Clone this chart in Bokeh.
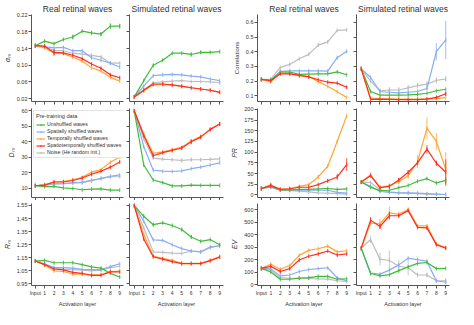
from math import pi
from bokeh.plotting import figure
from bokeh.layouts import gridplot
from bokeh.models import Range1d, FixedTicker, NumeralTickFormatter, Legend, LegendItem
from bokeh.embed import file_html
from bokeh.resources import INLINE

FONT = "Liberation Sans"

# ---------------- data ----------------
layer_x = [0, 1, 2, 3, 4, 5, 6, 7, 8, 9]
layer_labels = ["Input", "1", "2", "3", "4", "5", "6", "7", "8", "9"]

legend_order = ["unsh", "spat", "temp", "spatemp", "noise"]
draw_order = ["noise", "spat", "unsh", "temp", "spatemp"]
series_labels = {
    "unsh": "Unshuffled waves",
    "spat": "Spatially shuffled waves",
    "temp": "Temporally shuffled waves",
    "spatemp": "Spatiotemporally shuffled waves",
    "noise": "Noise (He random init.)",
}
series_colors = {
    "unsh": "#3fbb3a",
    "spat": "#86adf4",
    "temp": "#ffa535",
    "spatemp": "#ff2d20",
    "noise": "#bdbdbd",
}

alpha_real = {
    "unsh": [0.147, 0.158, 0.152, 0.162, 0.168, 0.182, 0.178, 0.175, 0.194, 0.194],
    "spat": [0.147, 0.145, 0.142, 0.143, 0.135, 0.135, 0.118, 0.112, 0.105, 0.096],
    "temp": [0.147, 0.142, 0.129, 0.128, 0.120, 0.110, 0.094, 0.086, 0.071, 0.062],
    "spatemp": [0.147, 0.146, 0.131, 0.130, 0.124, 0.116, 0.103, 0.093, 0.077, 0.070],
    "noise": [0.147, 0.144, 0.136, 0.135, 0.129, 0.127, 0.124, 0.120, 0.105, 0.105],
}
alpha_real_err = {
    "unsh": [0.0, 0.002, 0.002, 0.002, 0.006, 0.002, 0.005, 0.005, 0.007, 0.006],
    "spatemp": [0.0, 0.003, 0.008, 0.002, 0.002, 0.002, 0.002, 0.002, 0.002, 0.002],
    "noise": [0.0, 0.002, 0.003, 0.002, 0.002, 0.003, 0.004, 0.003, 0.003, 0.003],
}
alpha_sim = {
    "unsh": [0.024, 0.063, 0.100, 0.112, 0.129, 0.129, 0.126, 0.131, 0.131, 0.133],
    "spat": [0.024, 0.050, 0.075, 0.077, 0.078, 0.077, 0.074, 0.072, 0.067, 0.063],
    "temp": [0.024, 0.039, 0.053, 0.054, 0.052, 0.049, 0.046, 0.043, 0.040, 0.035],
    "spatemp": [0.024, 0.040, 0.055, 0.055, 0.053, 0.050, 0.046, 0.043, 0.040, 0.035],
    "noise": [0.024, 0.041, 0.058, 0.060, 0.062, 0.063, 0.061, 0.061, 0.060, 0.058],
}
alpha_sim_err = {
    "unsh": [0.0, 0.002, 0.002, 0.002, 0.002, 0.002, 0.005, 0.004, 0.002, 0.002],
    "noise": [0.0, 0.002, 0.002, 0.002, 0.002, 0.002, 0.002, 0.002, 0.002, 0.003],
}

dim_real = {
    "unsh": [11.6, 11.0, 11.2, 10.2, 9.8, 9.0, 9.4, 9.6, 8.8, 8.8],
    "spat": [11.6, 12.3, 12.8, 13.0, 13.4, 13.6, 14.8, 16.4, 17.6, 18.6],
    "temp": [11.6, 12.2, 14.0, 14.4, 15.4, 17.0, 20.4, 22.0, 26.8, 30.2],
    "spatemp": [11.6, 12.0, 14.0, 14.0, 15.0, 16.6, 19.0, 21.0, 23.6, 27.0],
    "noise": [11.6, 12.0, 12.8, 13.0, 13.5, 14.0, 15.2, 16.2, 17.4, 17.4],
}
dim_real_err = {
    "spatemp": [0.0, 0.4, 0.6, 0.4, 0.4, 0.4, 0.4, 0.5, 0.6, 0.6],
    "noise": [0.0, 0.3, 0.4, 0.4, 0.4, 0.5, 0.8, 0.6, 0.6, 0.6],
}
dim_sim = {
    "unsh": [60.0, 25.0, 15.3, 13.6, 11.5, 11.5, 12.0, 11.8, 11.8, 11.8],
    "spat": [60.0, 37.0, 21.6, 21.0, 20.8, 21.2, 22.6, 23.6, 25.0, 26.4],
    "temp": [60.0, 45.0, 32.5, 33.5, 35.0, 36.5, 40.5, 43.5, 48.0, 51.5],
    "spatemp": [60.0, 44.0, 31.0, 33.0, 34.4, 36.0, 40.0, 43.0, 48.0, 51.5],
    "noise": [60.0, 42.0, 29.4, 28.8, 28.4, 28.0, 28.4, 28.4, 28.6, 29.0],
}
dim_sim_err = {
    "spatemp": [0.0, 0.5, 0.8, 0.6, 0.8, 0.8, 1.5, 1.0, 0.8, 1.2],
    "noise": [0.0, 0.5, 0.8, 0.8, 1.0, 1.2, 1.2, 1.0, 1.0, 1.2],
}

rad_real = {
    "unsh": [1.125, 1.130, 1.112, 1.112, 1.112, 1.097, 1.080, 1.071, 1.031, 1.003],
    "spat": [1.125, 1.104, 1.075, 1.075, 1.071, 1.062, 1.060, 1.060, 1.082, 1.104],
    "temp": [1.125, 1.095, 1.050, 1.045, 1.025, 1.027, 1.020, 1.022, 1.045, 1.049],
    "spatemp": [1.125, 1.098, 1.064, 1.058, 1.038, 1.030, 1.016, 1.016, 1.042, 1.042],
    "noise": [1.125, 1.100, 1.070, 1.063, 1.060, 1.055, 1.050, 1.055, 1.075, 1.085],
}
rad_real_err = {
    "unsh": [0.0, 0.006, 0.003, 0.003, 0.006, 0.003, 0.004, 0.004, 0.003, 0.006],
    "spatemp": [0.0, 0.004, 0.004, 0.004, 0.004, 0.004, 0.003, 0.003, 0.003, 0.003],
}
rad_sim = {
    "unsh": [1.550, 1.467, 1.403, 1.417, 1.397, 1.366, 1.309, 1.276, 1.289, 1.250],
    "spat": [1.550, 1.430, 1.287, 1.283, 1.250, 1.220, 1.202, 1.195, 1.228, 1.244],
    "temp": [1.550, 1.330, 1.162, 1.145, 1.130, 1.108, 1.108, 1.108, 1.130, 1.160],
    "spatemp": [1.550, 1.294, 1.158, 1.140, 1.120, 1.105, 1.105, 1.105, 1.128, 1.155],
    "noise": [1.550, 1.380, 1.195, 1.191, 1.186, 1.183, 1.202, 1.195, 1.235, 1.240],
}
rad_sim_err = {
    "unsh": [0.0, 0.015, 0.012, 0.006, 0.006, 0.012, 0.012, 0.006, 0.006, 0.010],
    "spatemp": [0.0, 0.005, 0.005, 0.005, 0.005, 0.004, 0.004, 0.004, 0.004, 0.006],
}

corr_real = {
    "unsh": [0.212, 0.205, 0.261, 0.262, 0.246, 0.248, 0.250, 0.250, 0.263, 0.244],
    "spat": [0.212, 0.208, 0.267, 0.270, 0.270, 0.270, 0.270, 0.268, 0.360, 0.403],
    "temp": [0.212, 0.195, 0.255, 0.252, 0.238, 0.233, 0.197, 0.165, 0.128, 0.089],
    "spatemp": [0.212, 0.203, 0.250, 0.250, 0.240, 0.229, 0.210, 0.193, 0.187, 0.159],
    "noise": [0.212, 0.214, 0.293, 0.314, 0.352, 0.382, 0.445, 0.467, 0.545, 0.549],
}
corr_real_err = {
    "noise": [0.0, 0.005, 0.008, 0.010, 0.006, 0.006, 0.012, 0.010, 0.005, 0.005],
    "spat": [0.0, 0.004, 0.006, 0.006, 0.006, 0.006, 0.008, 0.006, 0.006, 0.008],
    "spatemp": [0.0, 0.004, 0.010, 0.004, 0.004, 0.004, 0.004, 0.004, 0.004, 0.008],
}
corr_sim = {
    "unsh": [0.285, 0.130, 0.105, 0.105, 0.105, 0.107, 0.110, 0.118, 0.135, 0.145],
    "spat": [0.285, 0.225, 0.130, 0.125, 0.120, 0.125, 0.130, 0.150, 0.400, 0.480],
    "temp": [0.285, 0.085, 0.082, 0.080, 0.078, 0.078, 0.078, 0.080, 0.082, 0.088],
    "spatemp": [0.285, 0.077, 0.078, 0.077, 0.075, 0.075, 0.075, 0.078, 0.090, 0.115],
    "noise": [0.285, 0.200, 0.135, 0.140, 0.140, 0.155, 0.170, 0.180, 0.205, 0.215],
}
corr_sim_err = {
    "spat": [0.0, 0.005, 0.008, 0.006, 0.006, 0.006, 0.006, 0.010, 0.060, 0.130],
    "noise": [0.0, 0.006, 0.015, 0.020, 0.020, 0.020, 0.020, 0.020, 0.020, 0.020],
    "spatemp": [0.0, 0.003, 0.003, 0.003, 0.003, 0.003, 0.003, 0.003, 0.008, 0.015],
}

pr_real = {
    "unsh": [15, 20, 12, 12, 13, 13, 14, 15, 13, 14],
    "spat": [15, 18, 12, 12, 11, 11, 11, 11, 6, 4],
    "temp": [15, 24, 13, 14.5, 20, 24, 42, 67, 125, 185],
    "spatemp": [15, 22, 13, 14.5, 18, 18, 24, 33, 42, 71],
    "noise": [15, 18, 11, 10, 9, 7, 5, 4, 3, 2],
}
pr_real_err = {
    "temp": [0, 4, 1, 1, 1, 2, 4, 2, 2, 2],
    "spatemp": [0, 3, 1, 1, 1, 1, 2, 4, 7, 15],
    "unsh": [0, 1, 1, 1, 1, 2, 2, 2, 1, 2],
}
pr_sim = {
    "unsh": [30, 18, 10, 11, 17, 22, 32, 38, 28, 34],
    "spat": [30, 20, 8, 6, 5, 5, 4, 3, 2, 1],
    "temp": [30, 47, 17, 22, 31, 45, 78, 156, 125, 60],
    "spatemp": [30, 45, 17, 20, 35, 53, 75, 107, 74, 53],
    "noise": [30, 29, 12, 7, 5, 4, 3, 2, 1.5, 1],
}
pr_sim_err = {
    "temp": [0, 4, 3, 5, 6, 8, 15, 25, 20, 40],
    "spatemp": [0, 3, 2, 3, 5, 5, 6, 10, 6, 30],
    "unsh": [0, 1, 1, 1, 1, 1, 2, 2, 2, 7],
}

ev_real = {
    "unsh": [129, 100, 42, 42, 51, 55, 65, 65, 42, 46],
    "spat": [129, 125, 69, 76, 104, 120, 127, 134, 53, 30],
    "temp": [129, 162, 122, 152, 233, 273, 286, 307, 261, 270],
    "spatemp": [129, 145, 104, 127, 196, 226, 245, 268, 236, 245],
    "noise": [129, 115, 55, 50, 50, 48, 45, 43, 30, 25],
}
ev_real_err = {
    "temp": [0, 12, 8, 10, 5, 5, 5, 5, 5, 5],
    "spatemp": [0, 10, 15, 10, 8, 5, 5, 5, 5, 5],
    "noise": [0, 8, 10, 10, 14, 12, 10, 10, 8, 8],
}
ev_sim = {
    "unsh": [290, 88, 69, 79, 111, 141, 169, 176, 127, 129],
    "spat": [290, 92, 83, 115, 157, 210, 199, 185, 30, 18],
    "temp": [290, 492, 485, 573, 561, 600, 469, 469, 323, 296],
    "spatemp": [290, 515, 464, 550, 550, 591, 457, 453, 319, 291],
    "noise": [290, 360, 203, 192, 146, 134, 76, 76, 30, 30],
}
ev_sim_err = {
    "noise": [0, 30, 50, 80, 50, 60, 20, 20, 15, 20],
    "spatemp": [0, 25, 20, 30, 15, 10, 10, 10, 10, 10],
    "temp": [0, 20, 40, 50, 20, 15, 10, 10, 10, 10],
    "spat": [0, 5, 8, 8, 8, 8, 10, 15, 10, 8],
}

# ---------------- layout ----------------
COLS = [
    dict(left=30, frame=93, right=2, xr=(-0.4, 9.4), ylab=True),
    dict(left=4, frame=94, right=2, xr=(-0.5, 9.4), ylab=False),
    dict(left=32, frame=93, right=2, xr=(-0.4, 9.4), ylab=True),
    dict(left=4, frame=93, right=9, xr=(-0.5, 9.4), ylab=False),
]
ROWS = [
    dict(top=12, frame=89, bottom=4, xlab=False),
    dict(top=3, frame=89, bottom=3, xlab=False),
    dict(top=3, frame=88, bottom=18, xlab=True),
]

AX = "#555555"
TXT = "#333333"

PANELS = [
    # row 0
    [dict(data=alpha_real, err=alpha_real_err, yr=(0.013, 0.222), ticks=[0.02, 0.06, 0.10, 0.14, 0.18, 0.22], fmt="0.00", ylabel="αₘ", ital=True, title="Real retinal waves"),
     dict(data=alpha_sim, err=alpha_sim_err, yr=(0.013, 0.222), ticks=[0.02, 0.06, 0.10, 0.14, 0.18, 0.22], fmt="0.00", ylabel=None, ital=True, title="Simulated retinal waves"),
     dict(data=corr_real, err=corr_real_err, yr=(0.062, 0.653), ticks=[0.1, 0.2, 0.3, 0.4, 0.5, 0.6], fmt="0.0", ylabel="Correlations", ital=False, title="Real retinal waves"),
     dict(data=corr_sim, err=corr_sim_err, yr=(0.062, 0.653), ticks=[0.1, 0.2, 0.3, 0.4, 0.5, 0.6], fmt="0.0", ylabel=None, ital=False, title="Simulated retinal waves")],
    # row 1
    [dict(data=dim_real, err=dim_real_err, yr=(4, 61.5), ticks=[10, 20, 30, 40, 50, 60], fmt="0", ylabel="Dₘ", ital=True, title=None),
     dict(data=dim_sim, err=dim_sim_err, yr=(4, 61.5), ticks=[10, 20, 30, 40, 50, 60], fmt="0", ylabel=None, ital=True, title=None),
     dict(data=pr_real, err=pr_real_err, yr=(-6, 202), ticks=[0, 25, 50, 75, 100, 125, 150, 175, 200], fmt="0", ylabel="PR", ital=True, title=None),
     dict(data=pr_sim, err=pr_sim_err, yr=(-6, 202), ticks=[0, 25, 50, 75, 100, 125, 150, 175, 200], fmt="0", ylabel=None, ital=True, title=None)],
    # row 2
    [dict(data=rad_real, err=rad_real_err, yr=(0.938, 1.565), ticks=[0.95, 1.05, 1.15, 1.25, 1.35, 1.45, 1.55], fmt="0.00", ylabel="Rₘ", ital=True, title=None),
     dict(data=rad_sim, err=rad_sim_err, yr=(0.938, 1.565), ticks=[0.95, 1.05, 1.15, 1.25, 1.35, 1.45, 1.55], fmt="0.00", ylabel=None, ital=True, title=None),
     dict(data=ev_real, err=ev_real_err, yr=(-8, 648), ticks=[0, 100, 200, 300, 400, 500, 600], fmt="0", ylabel="EV", ital=True, title=None),
     dict(data=ev_sim, err=ev_sim_err, yr=(-8, 648), ticks=[0, 100, 200, 300, 400, 500, 600], fmt="0", ylabel=None, ital=True, title=None)],
]


def make_fig(r, c, spec):
    cs, rs = COLS[c], ROWS[r]
    p = figure(width=cs["left"] + cs["frame"] + cs["right"],
               height=rs["top"] + rs["frame"] + rs["bottom"],
               output_backend="svg", toolbar_location=None, tools="",
               x_range=Range1d(*cs["xr"]), y_range=Range1d(*spec["yr"]),
               min_border_left=cs["left"], min_border_right=cs["right"],
               min_border_top=rs["top"], min_border_bottom=rs["bottom"],
               title=spec["title"])
    p.outline_line_color = None
    p.grid.visible = False
    p.background_fill_color = "white"
    p.border_fill_color = "white"
    if spec["title"]:
        p.title.text_font = FONT
        p.title.text_font_size = "8.5px"
        p.title.text_font_style = "normal"
        p.title.text_color = TXT
        p.title.align = "center"
        try:
            p.title.standoff = 2
        except Exception:
            pass

    # y axis
    ya = p.yaxis[0]
    ya.ticker = FixedTicker(ticks=spec["ticks"])
    ya.formatter = NumeralTickFormatter(format=spec["fmt"])
    ya.minor_tick_line_color = None
    ya.major_tick_in = 0
    ya.major_tick_out = 3
    ya.axis_line_color = AX
    ya.major_tick_line_color = AX
    ya.major_label_standoff = 1
    ya.major_label_text_font = FONT
    ya.major_label_text_color = TXT
    if cs["ylab"]:
        ya.major_label_text_font_size = "5.5px"
        ya.axis_label = spec["ylabel"]
        ya.axis_label_text_font = FONT
        ya.axis_label_text_font_size = "7px" if spec["ital"] else "6px"
        ya.axis_label_text_font_style = "italic" if spec["ital"] else "normal"
        ya.axis_label_text_color = TXT
        ya.axis_label_standoff = 3
    else:
        ya.major_label_text_font_size = "0px"

    # x axis
    xa = p.xaxis[0]
    xa.ticker = FixedTicker(ticks=layer_x)
    xa.major_label_overrides = {i: lab for i, lab in zip(layer_x, layer_labels)}
    xa.minor_tick_line_color = None
    xa.major_tick_in = 0
    xa.major_tick_out = 3
    xa.axis_line_color = AX
    xa.major_tick_line_color = AX
    xa.major_label_text_font = FONT
    xa.major_label_text_color = TXT
    if rs["xlab"]:
        xa.major_label_text_font_size = "5px"
        xa.major_label_standoff = 1
        xa.axis_label = "Activation layer"
        xa.axis_label_text_font = FONT
        xa.axis_label_text_font_size = "5.5px"
        xa.axis_label_text_font_style = "normal"
        xa.axis_label_text_color = TXT
        xa.axis_label_standoff = 2
    else:
        xa.major_label_text_font_size = "0px"
        xa.major_label_standoff = 0

    rends = {}
    for key in draw_order:
        ys = spec["data"][key]
        col = series_colors[key]
        errs = spec["err"].get(key)
        if errs:
            p.segment(x0=layer_x, y0=[y - e for y, e in zip(ys, errs)],
                      x1=layer_x, y1=[y + e for y, e in zip(ys, errs)],
                      line_color=col, line_width=1, line_alpha=0.8)
        ln = p.line(layer_x, ys, line_color=col, line_width=1.2)
        mk = p.scatter(layer_x, ys, marker="dash", angle=pi / 2, size=4,
                       line_color=col, line_width=0.9, fill_color=None)
        rends[key] = [ln, mk]
    return p, rends


figs = []
for r in range(3):
    row_figs = []
    for c in range(4):
        p, rends = make_fig(r, c, PANELS[r][c])
        if r == 1 and c == 0:
            items = [LegendItem(label=series_labels[k], renderers=rends[k]) for k in legend_order]
            lg = Legend(items=items, location="top_left", title="Pre-training data")
            lg.title_text_font = FONT
            lg.title_text_font_size = "5.6px"
            lg.title_text_font_style = "normal"
            lg.title_text_color = TXT
            lg.title_standoff = 2
            lg.label_text_font = FONT
            lg.label_text_font_size = "5.2px"
            lg.label_text_color = TXT
            lg.label_height = 5
            lg.label_standoff = 2
            lg.glyph_height = 5
            lg.glyph_width = 9
            lg.spacing = 1
            lg.padding = 2
            lg.margin = 2
            lg.border_line_color = "#cccccc"
            lg.border_line_width = 0.8
            lg.background_fill_alpha = 1.0
            p.add_layout(lg)
        row_figs.append(p)
    figs.append(row_figs)

grid = gridplot(figs, toolbar_location=None)
open("out.html", "w").write(file_html(grid, INLINE))
